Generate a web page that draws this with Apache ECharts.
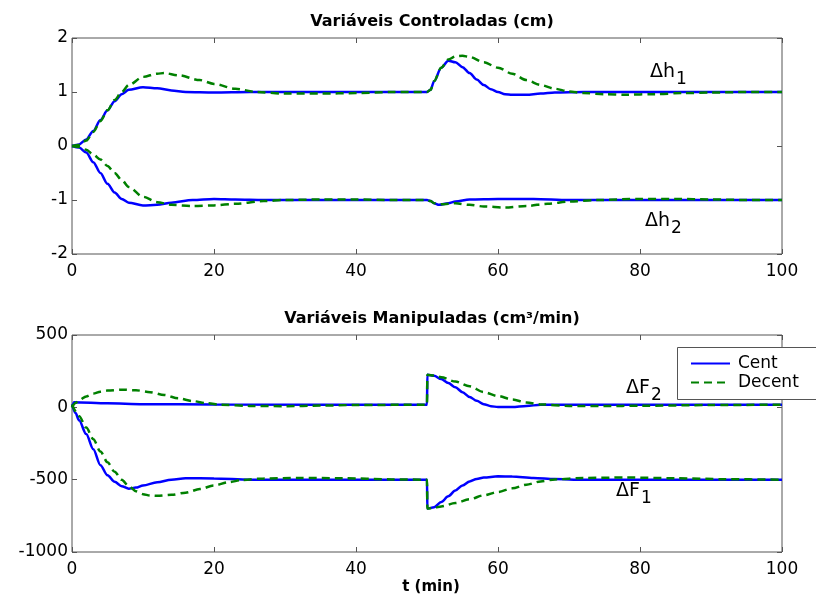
<!DOCTYPE html>
<html>
<head>
<meta charset="utf-8">
<script src="https://cdn.jsdelivr.net/npm/echarts@6/dist/echarts.min.js"></script>
<style>
  html, body { margin: 0; padding: 0; background: #fff; }
  #chart { width: 816px; height: 601px; }
</style>
</head>
<body>
<div id="chart"></div>
<script>
  // Variáveis controladas: [t, valor]
  var h1Cent = [[0,0],[1,0.03],[2,0.12],[3,0.28],[4,0.48],[5,0.66],[6,0.83],[7,0.96],[8,1.04],[10,1.09],[12,1.07],[14,1.03],[16,1.0],[20,0.99],[25,1.0],[50,1.0],
    [50.5,1.04],[51,1.2],[52,1.45],[53,1.58],[54,1.55],[55,1.46],[56,1.35],[57,1.23],[58,1.13],[59,1.05],[60,1.0],[61,0.96],[62,0.95],[64,0.95],[66,0.97],[68,0.99],[72,1.0],[100,1.0]];
  var h1Decent = [[0,0],[1,0.02],[2,0.1],[3,0.26],[4,0.46],[5,0.66],[6,0.85],[7,1.0],[8,1.13],[10,1.28],[12,1.34],[13,1.35],[15,1.31],[18,1.22],[20,1.15],[23,1.06],[26,1.0],[30,0.97],[35,0.97],[40,0.98],[45,1.0],[50,1.0],
    [50.5,1.04],[51,1.2],[52,1.45],[53,1.6],[54,1.66],[55,1.67],[56,1.65],[58,1.55],[60,1.45],[62,1.34],[64,1.22],[66,1.13],[68,1.06],[70,1.01],[72,0.98],[75,0.96],[78,0.95],[82,0.96],[86,0.98],[90,0.99],[95,1.0],[100,1.0]];
  var h2Cent = [[0,0],[1,-0.03],[2,-0.12],[3,-0.3],[4,-0.5],[5,-0.7],[6,-0.86],[7,-0.98],[8,-1.05],[10,-1.1],[12,-1.09],[14,-1.05],[17,-1.0],[20,-0.98],[23,-0.99],[27,-1.0],[50,-1.0],
    [50.5,-1.02],[51,-1.06],[51.7,-1.09],[53,-1.06],[54,-1.03],[56,-0.99],[60,-0.98],[65,-0.98],[70,-1.0],[100,-1.0]];
  var h2Decent = [[0,0],[1,-0.02],[2,-0.07],[3,-0.16],[4,-0.25],[5,-0.37],[6,-0.5],[7,-0.63],[8,-0.76],[10,-0.94],[12,-1.04],[14,-1.09],[17,-1.11],[20,-1.1],[23,-1.07],[27,-1.02],[30,-1.0],[35,-0.99],[40,-0.99],[45,-1.0],[50,-1.0],
    [50.5,-1.02],[51,-1.06],[52,-1.08],[54,-1.06],[56,-1.09],[58,-1.12],[61,-1.14],[64,-1.11],[67,-1.07],[70,-1.03],[74,-1.0],[80,-0.98],[85,-0.98],[90,-0.99],[95,-1.0],[100,-1.0]];

  // Variáveis manipuladas: [t, valor]
  var f2Cent = [[0,0],[0.3,35],[5,28],[10,22],[20,19],[50,18],
    [50.05,225],[51,218],[52,195],[53,168],[54,138],[55,105],[56,72],[57,45],[58,22],[59,8],[60,2],[62,2],[64,10],[66,17],[70,18],[100,18]];
  var f2Decent = [[0,0],[0.5,30],[1,50],[2,75],[3,95],[4,108],[5,116],[7,122],[9,118],[11,105],[13,85],[15,62],[17,43],[19,28],[21,18],[25,10],[30,8],[35,12],[40,16],[50,18],
    [50.05,225],[51,220],[52,208],[54,178],[56,145],[58,105],[60,78],[62,54],[64,34],[66,20],[70,10],[75,9],[80,11],[90,16],[100,18]];
  var f1Cent = [[0,20],[0.5,-40],[1,-90],[2,-185],[3,-290],[4,-400],[5,-470],[6,-515],[7,-545],[8,-562],[9,-555],[10,-540],[12,-518],[14,-500],[16,-490],[20,-492],[25,-500],[50,-500],
    [50.05,-700],[51,-690],[52,-655],[53,-615],[54,-575],[55,-540],[56,-512],[57,-495],[58,-485],[60,-477],[62,-478],[65,-488],[68,-496],[72,-500],[100,-500]];
  var f1Decent = [[0,20],[1,-60],[2,-140],[3,-220],[4,-305],[5,-380],[6,-445],[7,-500],[8,-545],[9,-580],[10,-600],[11,-610],[12,-612],[14,-605],[16,-590],[18,-565],[20,-540],[22,-518],[24,-502],[27,-492],[32,-488],[38,-490],[45,-498],[50,-500],
    [50.05,-700],[51,-695],[52,-685],[54,-662],[56,-635],[58,-608],[60,-585],[62,-560],[64,-535],[66,-512],[68,-498],[72,-488],[78,-485],[85,-490],[92,-497],[100,-500]];

  var chart = echarts.init(document.getElementById('chart'), null, { renderer: 'canvas' });

  var fontName = 'DejaVu Sans';
  var azul = '#0000FF';
  var verde = '#008000';

  // eixo estilo matlab: ticks para dentro, sem grade
  function eixoX(grid, mostra, pos) {
    return {
      type: 'value', gridIndex: grid, position: pos, min: 0, max: 100, interval: 20,
      axisLine: { show: false, onZero: false },
      axisTick: { show: true, inside: true, length: 5, lineStyle: { color: '#555' } },
      axisLabel: { show: mostra, color: '#000', fontSize: 17, fontFamily: fontName, margin: 9 },
      splitLine: { show: false }
    };
  }
  function eixoY(grid, mn, mx, iv, mostra, pos) {
    return {
      type: 'value', gridIndex: grid, position: pos, min: mn, max: mx, interval: iv,
      axisLine: { show: false, onZero: false },
      axisTick: { show: true, inside: true, length: 5, lineStyle: { color: '#555' } },
      axisLabel: { show: mostra, color: '#000', fontSize: 17, fontFamily: fontName, margin: 4,
        formatter: function (v) { return String(v); } },
      splitLine: { show: false }
    };
  }
  function serie(nome, dados, x, y, cor, tracejado) {
    return {
      name: nome, type: 'line', xAxisIndex: x, yAxisIndex: y, data: dados,
      symbol: 'none', smooth: 0.3, smoothMonotone: 'x',
      lineStyle: { color: cor, width: 2.5, type: tracejado ? [8, 5] : 'solid' },
      itemStyle: { color: cor },
      emphasis: { disabled: true }
    };
  }
  function rotulo(base, sub, x, y) {
    return {
      type: 'text', left: x, top: y,
      style: {
        text: '{a|' + base + '}{b|' + sub + '}',
        rich: {
          a: { fontSize: 19, fontFamily: fontName, fill: '#000' },
          b: { fontSize: 17, fontFamily: fontName, fill: '#000', padding: [14, 0, 0, 1] }
        }
      }
    };
  }

  var option = {
    animation: false,
    backgroundColor: '#fff',
    textStyle: { fontFamily: fontName },
    title: [
      { text: 'Variáveis Controladas (cm)', left: 427, top: 9, textAlign: 'center',
        textStyle: { fontSize: 16, fontWeight: 'bold', color: '#000', fontFamily: fontName } },
      { text: 'Variáveis Manipuladas (cm³/min)', left: 427, top: 306, textAlign: 'center',
        textStyle: { fontSize: 16, fontWeight: 'bold', color: '#000', fontFamily: fontName } },
      { text: 't (min)', left: 426, top: 575, textAlign: 'center',
        textStyle: { fontSize: 15, fontWeight: 'bold', color: '#000', fontFamily: fontName } }
    ],
    legend: {
      data: ['Cent', 'Decent'],
      orient: 'vertical',
      left: 677, top: 347,
      padding: [8, 10, 6, 13],
      itemGap: 2,
      itemWidth: 39, itemHeight: 14,
      backgroundColor: 'transparent',
      borderWidth: 0,
      itemStyle: { opacity: 0 },
      textStyle: { fontSize: 17, color: '#000', fontFamily: fontName, padding: [0, 0, 0, 3] },
      selectedMode: false
    },
    grid: [
      { left: 72, top: 38, width: 710, height: 216, show: true, borderColor: '#555', borderWidth: 1, backgroundColor: 'transparent' },
      { left: 72, top: 335, width: 710, height: 217, show: true, borderColor: '#555', borderWidth: 1, backgroundColor: 'transparent' }
    ],
    xAxis: [
      eixoX(0, true, 'bottom'), eixoX(1, true, 'bottom'),
      eixoX(0, false, 'top'), eixoX(1, false, 'top')
    ],
    yAxis: [
      eixoY(0, -2, 2, 1, true, 'left'), eixoY(1, -1000, 500, 500, true, 'left'),
      eixoY(0, -2, 2, 1, false, 'right'), eixoY(1, -1000, 500, 500, false, 'right')
    ],
    graphic: [
      // caixa da legenda, cortada na borda direita como no original
      { type: 'rect', x: 677.5, y: 347.5, z: 3, shape: { x: 0, y: 0, width: 180, height: 52 },
        style: { fill: '#fff', stroke: '#555', lineWidth: 1 } },
      rotulo('Δh', '1', 650, 63),
      rotulo('Δh', '2', 645, 212),
      rotulo('ΔF', '2', 626, 379),
      rotulo('ΔF', '1', 616, 482)
    ],
    series: [
      serie('Cent', h1Cent, 0, 0, azul, false),
      serie('Cent', h2Cent, 0, 0, azul, false),
      serie('Decent', h1Decent, 0, 0, verde, true),
      serie('Decent', h2Decent, 0, 0, verde, true),
      serie('Cent', f2Cent, 1, 1, azul, false),
      serie('Cent', f1Cent, 1, 1, azul, false),
      serie('Decent', f2Decent, 1, 1, verde, true),
      serie('Decent', f1Decent, 1, 1, verde, true)
    ]
  };

  chart.setOption(option);
</script>
</body>
</html>
